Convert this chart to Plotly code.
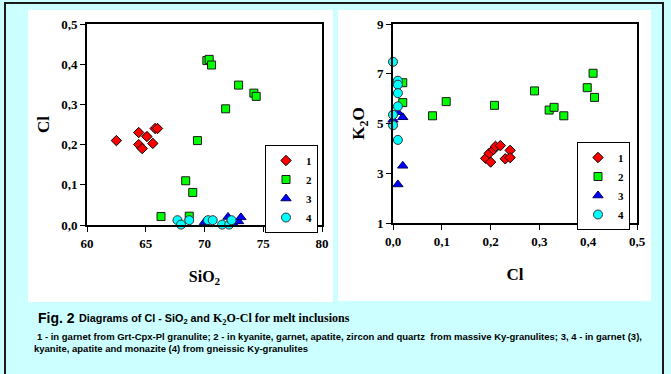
import plotly.graph_objects as go

W, H = 671, 374

# ---- Data: Cl vs SiO2 (left panel) ----
s1_sio2 = [62.5, 64.4, 64.4, 64.7, 65.1, 65.6, 65.8, 66.0]
s1_cl = [0.21, 0.23, 0.20, 0.19, 0.22, 0.203, 0.24, 0.24]
s2_sio2 = [70.2, 70.4, 70.6, 72.9, 74.2, 74.4, 71.8, 69.4, 68.4, 69.0, 66.3, 68.7]
s2_cl = [0.409, 0.412, 0.398, 0.348, 0.328, 0.320, 0.289, 0.21, 0.11, 0.081, 0.021, 0.022]
s3_sio2 = [70.0, 72.0, 72.4, 72.9, 73.1]
s3_cl = [0.007, 0.02, 0.005, 0.009, 0.019]
s4_sio2 = [67.7, 68.0, 68.7, 70.3, 70.7, 71.5, 72.1, 72.3]
s4_cl = [0.012, 0.001, 0.012, 0.012, 0.012, 0.001, 0.001, 0.012]

# ---- Data: K2O vs Cl (right panel) ----
r1_cl = [0.19, 0.20, 0.197, 0.206, 0.21, 0.22, 0.23, 0.24, 0.24]
r1_k2o = [3.60, 3.45, 3.80, 3.95, 4.08, 4.11, 3.58, 3.92, 3.63]
r2_cl = [0.02, 0.02, 0.081, 0.109, 0.208, 0.29, 0.32, 0.33, 0.35, 0.398, 0.41, 0.413]
r2_k2o = [6.64, 5.84, 5.31, 5.88, 5.73, 6.31, 5.54, 5.65, 5.31, 6.44, 7.02, 6.05]
r3_cl = [0.01, 0.02, 0.02, 0.01, 0.0]
r3_k2o = [2.55, 3.30, 5.25, 5.45, 5.15]
r4_cl = [0.0, 0.01, 0.01, 0.01, 0.01, 0.0, 0.0, 0.01]
r4_k2o = [7.48, 6.72, 6.56, 6.22, 5.69, 5.35, 4.93, 4.34]

series_names = ["1", "2", "3", "4"]

# ---- Tick values / labels ----
sio2_ticks = [60, 65, 70, 75, 80]
sio2_labels = ["60", "65", "70", "75", "80"]
cl_ticks = [0.0, 0.1, 0.2, 0.3, 0.4, 0.5]
cl_labels = ["0,0", "0,1", "0,2", "0,3", "0,4", "0,5"]
k2o_ticks = [1, 3, 5, 7, 9]
k2o_labels = ["1", "3", "5", "7", "9"]

styles = [
    dict(symbol="diamond", size=8, color="#FF0000", line=dict(color="#000000", width=1)),
    dict(symbol="square", size=8, color="#00FF00", line=dict(color="#1a1a1a", width=1)),
    dict(symbol="triangle-up", size=9, color="#0000FF", line=dict(color="#000066", width=1)),
    dict(symbol="circle", size=9, color="#00FFFF", line=dict(color="#333333", width=1)),
]

SERIF = "Liberation Serif"
SANS = "Liberation Sans"

fig = go.Figure()

left_data = [(s1_sio2, s1_cl), (s2_sio2, s2_cl), (s3_sio2, s3_cl), (s4_sio2, s4_cl)]
right_data = [(r1_cl, r1_k2o), (r2_cl, r2_k2o), (r3_cl, r3_k2o), (r4_cl, r4_k2o)]

for name, (x, y), st in zip(series_names, left_data, styles):
    fig.add_trace(go.Scatter(x=x, y=y, mode="markers", name="<b>" + name + "</b>", marker=st,
                             xaxis="x", yaxis="y", legend="legend", cliponaxis=False))
for name, (x, y), st in zip(series_names, right_data, styles):
    fig.add_trace(go.Scatter(x=x, y=y, mode="markers", name="<b>" + name + "</b>", marker=st,
                             xaxis="x2", yaxis="y2", legend="legend2", cliponaxis=False))

def px_x(p):
    return p / W

def px_y(p):
    return 1 - p / H

def bold(labels):
    return ["<b>" + t + "</b>" for t in labels]

def axis_common(vals, labels):
    return dict(showgrid=False, zeroline=False, showline=True, linecolor="#000000",
                linewidth=2, mirror=True, ticks="outside", ticklen=5, tickwidth=1,
                tickcolor="#000000", tickmode="array", tickvals=vals, ticktext=bold(labels),
                tickfont=dict(family=SERIF, size=13, color="#000000"),
                automargin=False)

fig.update_layout(
    width=W, height=H,
    font=dict(family=SERIF, color="#000000"),
    margin=dict(l=0, r=0, t=0, b=0, autoexpand=False),
    paper_bgcolor="#CCFFFF",
    plot_bgcolor="#FFFFFF",
    showlegend=True,
    xaxis=dict(domain=[px_x(87), px_x(322)], range=[60, 80],
               anchor="y", title=dict(text="<b>SiO<sub>2</sub></b>", font=dict(family=SERIF, size=16), standoff=21),
               **axis_common(sio2_ticks, sio2_labels)),
    yaxis=dict(domain=[px_y(225), px_y(24)], range=[0, 0.5],
               anchor="x", title=dict(text="<b>Cl</b>", font=dict(family=SERIF, size=17), standoff=7),
               **axis_common(cl_ticks, cl_labels)),
    xaxis2=dict(domain=[px_x(393), px_x(637)], range=[0, 0.5],
                anchor="y2", title=dict(text="<b>Cl</b>", font=dict(family=SERIF, size=17), standoff=21),
                **axis_common(cl_ticks, cl_labels)),
    yaxis2=dict(domain=[px_y(223), px_y(24)], range=[1, 9],
                anchor="x2", title=dict(text="<b>K<sub>2</sub>O</b>", font=dict(family=SERIF, size=17), standoff=8),
                **axis_common(k2o_ticks, k2o_labels)),
    legend=dict(x=px_x(318), y=px_y(145), xanchor="right", yanchor="top",
                bgcolor="#FFFFFF", bordercolor="#000000", borderwidth=1,
                font=dict(family=SERIF, size=11, color="#000000"),
                itemwidth=30, tracegroupgap=0),
    legend2=dict(x=px_x(630), y=px_y(142), xanchor="right", yanchor="top",
                 bgcolor="#FFFFFF", bordercolor="#000000", borderwidth=1,
                 font=dict(family=SERIF, size=11, color="#000000"),
                 itemwidth=30, tracegroupgap=0),
)

shapes = [
    dict(type="rect", xref="paper", yref="paper", x0=px_x(28), x1=px_x(333), y0=px_y(302), y1=px_y(10),
         fillcolor="#FFFFFF", line=dict(width=0), layer="below"),
    dict(type="rect", xref="paper", yref="paper", x0=px_x(338), x1=px_x(651), y0=px_y(301), y1=px_y(10),
         fillcolor="#FFFFFF", line=dict(width=0), layer="below"),
    dict(type="rect", xref="paper", yref="paper", x0=px_x(5), x1=px_x(663), y0=px_y(384), y1=px_y(3),
         fillcolor="rgba(0,0,0,0)", line=dict(color="#1a1a1a", width=2), layer="above"),
]
fig.update_layout(shapes=shapes)

annotations = [
    dict(text="<b>Fig. 2</b>", x=px_x(36), y=px_y(318), xref="paper", yref="paper",
         xanchor="left", yanchor="middle", showarrow=False,
         font=dict(family=SANS, size=14, color="#000000")),
    dict(text="<b>Diagrams of Cl - SiO<sub>2</sub> and</b>", x=px_x(77), y=px_y(319), xref="paper", yref="paper",
         xanchor="left", yanchor="middle", showarrow=False,
         font=dict(family=SANS, size=10.8, color="#000000")),
    dict(text="<b>K<sub>2</sub>O-Cl for melt inclusions</b>", x=px_x(211), y=px_y(319), xref="paper", yref="paper",
         xanchor="left", yanchor="middle", showarrow=False,
         font=dict(family=SERIF, size=12, color="#000000")),
    dict(text="<b>1 - in garnet from Grt-Cpx-Pl granulite; 2 - in kyanite, garnet, apatite, zircon and quartz  from massive Ky-granulites; 3, 4 - in garnet (3),</b>",
         x=px_x(35), y=px_y(336), xref="paper", yref="paper",
         xanchor="left", yanchor="middle", showarrow=False,
         font=dict(family=SANS, size=9.5, color="#000000")),
    dict(text="<b>kyanite, apatite and monazite (4) from gneissic Ky-granulites</b>",
         x=px_x(32), y=px_y(348), xref="paper", yref="paper",
         xanchor="left", yanchor="middle", showarrow=False,
         font=dict(family=SANS, size=9.5, color="#000000")),
]
fig.update_layout(annotations=annotations)

fig.write_html("out.html", config={"displayModeBar": False},
               post_script="document.body.style.margin='0px';")
